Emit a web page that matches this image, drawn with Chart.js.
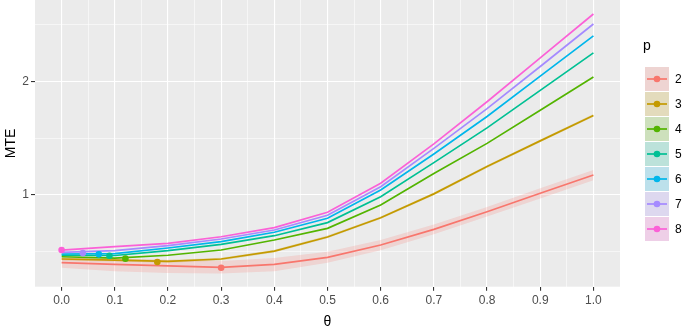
<!DOCTYPE html>
<html>
<head>
<meta charset="utf-8">
<script src="https://cdn.jsdelivr.net/npm/chart.js@4"></script>
<style>
  html, body { margin: 0; padding: 0; background: #ffffff; }
  #wrap { width: 685px; height: 332px; }
</style>
</head>
<body>
<div id="wrap"><canvas id="chart" width="685" height="332"></canvas></div>
<script>
// data
const thetas = [0, 0.1, 0.2, 0.3, 0.4, 0.5, 0.6, 0.7, 0.8, 0.9, 1.0];
const pLevels = ["2", "3", "4", "5", "6", "7", "8"];

const mte2 = [0.405, 0.390, 0.376, 0.364, 0.390, 0.452, 0.560, 0.698, 0.853, 1.015, 1.176];
const mte3 = [0.437, 0.428, 0.417, 0.437, 0.507, 0.631, 0.800, 1.010, 1.250, 1.476, 1.700];
const mte4 = [0.457, 0.445, 0.470, 0.516, 0.604, 0.707, 0.912, 1.190, 1.454, 1.746, 2.038];
const mte5 = [0.472, 0.468, 0.510, 0.566, 0.642, 0.757, 0.985, 1.285, 1.590, 1.920, 2.250];
const mte6 = [0.481, 0.485, 0.534, 0.590, 0.672, 0.795, 1.044, 1.360, 1.690, 2.045, 2.400];
const mte7 = [0.496, 0.510, 0.554, 0.613, 0.692, 0.822, 1.073, 1.410, 1.760, 2.130, 2.504];
const mte8 = [0.516, 0.546, 0.575, 0.633, 0.713, 0.848, 1.103, 1.450, 1.820, 2.206, 2.592];

// confidence bands (only p = 2 and 3 are visibly wide)
const band2Lower = [0.360, 0.330, 0.315, 0.310, 0.330, 0.405, 0.515, 0.655, 0.810, 0.970, 1.130];
const band2Upper = [0.450, 0.440, 0.430, 0.420, 0.445, 0.500, 0.605, 0.740, 0.895, 1.060, 1.220];
const band3Lower = [0.425, 0.416, 0.405, 0.425, 0.495, 0.619, 0.788, 0.998, 1.238, 1.464, 1.688];
const band3Upper = [0.449, 0.440, 0.429, 0.449, 0.519, 0.643, 0.812, 1.022, 1.262, 1.488, 1.712];

// minimum MTE marker per p
const minTheta = [0.30, 0.18, 0.12, 0.09, 0.07, 0.04, 0.00];
const minMte = [0.360, 0.411, 0.440, 0.466, 0.478, 0.489, 0.516];

const xTickValues = [0, 0.1, 0.2, 0.3, 0.4, 0.5, 0.6, 0.7, 0.8, 0.9, 1.0];
const xTickLabels = ["0.0", "0.1", "0.2", "0.3", "0.4", "0.5", "0.6", "0.7", "0.8", "0.9", "1.0"];
const xMinorValues = [0.05, 0.15, 0.25, 0.35, 0.45, 0.55, 0.65, 0.75, 0.85, 0.95];
const yTickValues = [1, 2];
const yTickLabels = ["1", "2"];
const yMinorValues = [0.5, 1.5, 2.5];

const seriesValues = [mte2, mte3, mte4, mte5, mte6, mte7, mte8];
const bands = { "2": [band2Lower, band2Upper], "3": [band3Lower, band3Upper] };
const colors = ["#F8766D", "#C49A00", "#53B400", "#00C094", "#00B6EB", "#A58AFF", "#FB61D7"];

function alpha(hex, a) {
  const n = parseInt(hex.slice(1), 16);
  return `rgba(${(n >> 16) & 255}, ${(n >> 8) & 255}, ${n & 255}, ${a})`;
}
function pts(xs, ys) {
  return xs.map((x, i) => ({ x: x, y: ys[i] }));
}
function findIndex(arr, v) {
  return arr.findIndex((a) => Math.abs(a - v) < 1e-6);
}

const datasets = [];
pLevels.forEach((p, i) => {
  if (bands[p]) {
    datasets.push({
      label: "lo" + p, data: pts(thetas, bands[p][0]),
      borderWidth: 0, pointRadius: 0, fill: false, order: 10,
    });
    datasets.push({
      label: "hi" + p, data: pts(thetas, bands[p][1]),
      borderWidth: 0, pointRadius: 0, fill: "-1",
      backgroundColor: alpha(colors[i], 0.2), order: 10,
    });
  }
});
pLevels.forEach((p, i) => {
  datasets.push({
    label: p, data: pts(thetas, seriesValues[i]),
    borderColor: colors[i], borderWidth: 1.7, pointRadius: 0,
    fill: false, tension: 0, order: 5 - i * 0.1,
  });
});
pLevels.forEach((p, i) => {
  datasets.push({
    label: "min" + p, data: [{ x: minTheta[i], y: minMte[i] }],
    showLine: false, pointRadius: 3.3, pointBorderWidth: 0,
    pointBackgroundColor: colors[i], order: 1,
  });
});

const panelBg = {
  id: "panelBg",
  beforeDraw(chart) {
    const { ctx, chartArea: a } = chart;
    ctx.save();
    ctx.fillStyle = "#EBEBEB";
    ctx.fillRect(a.left, a.top, a.right - a.left, a.bottom - a.top);
    ctx.restore();
  },
};

const extras = {
  id: "extras",
  afterDraw(chart) {
    const { ctx, chartArea: a } = chart;
    ctx.save();
    ctx.fillStyle = "#000000";
    ctx.font = "14px 'Liberation Sans', Arial, sans-serif";
    ctx.textAlign = "center";
    ctx.textBaseline = "middle";
    ctx.fillText("\u03B8", (a.left + a.right) / 2, 322);
    ctx.save();
    ctx.translate(11, (a.top + a.bottom) / 2);
    ctx.rotate(-Math.PI / 2);
    ctx.fillText("MTE", 0, 0);
    ctx.restore();

    // legend
    ctx.textAlign = "left";
    ctx.fillText("p", 643, 46);
    ctx.font = "12px 'Liberation Sans', Arial, sans-serif";
    pLevels.forEach((p, i) => {
      const y0 = 67 + i * 25;
      ctx.fillStyle = "#EBEBEB";
      ctx.fillRect(645, y0, 24, 24);
      ctx.fillStyle = alpha(colors[i], 0.2);
      ctx.fillRect(645, y0, 24, 24);
      ctx.strokeStyle = colors[i];
      ctx.lineWidth = 1.7;
      ctx.beginPath();
      ctx.moveTo(647, y0 + 12);
      ctx.lineTo(667, y0 + 12);
      ctx.stroke();
      ctx.fillStyle = colors[i];
      ctx.beginPath();
      ctx.arc(657, y0 + 12, 3.3, 0, Math.PI * 2);
      ctx.fill();
      ctx.fillStyle = "#000000";
      ctx.fillText(p, 675, y0 + 12.5);
    });
    ctx.restore();
  },
};

const tickFont = { family: "'Liberation Sans', Arial, sans-serif", size: 12 };

new Chart(document.getElementById("chart").getContext("2d"), {
  type: "line",
  data: { datasets: datasets },
  options: {
    responsive: false,
    animation: false,
    devicePixelRatio: 1,
    layout: { autoPadding: false, padding: { left: 0, right: 65, top: 0, bottom: 0 } },
    plugins: {
      legend: { display: false },
      tooltip: { enabled: false },
    },
    scales: {
      x: {
        type: "linear",
        min: -0.05,
        max: 1.05,
        afterBuildTicks(scale) {
          scale.ticks = xTickValues.concat(xMinorValues).map((v) => ({ value: v }));
        },
        afterFit(scale) {
          scale.height = 45.3;
          scale.paddingLeft = 0;
          scale.paddingRight = 0;
        },
        border: { display: false },
        grid: {
          color: "#FFFFFF",
          lineWidth: (c) => (findIndex(xTickValues, c.tick.value) >= 0 ? 1.1 : 0.55),
          tickColor: (c) => (findIndex(xTickValues, c.tick.value) >= 0 ? "#333333" : "rgba(0,0,0,0)"),
          tickLength: 4,
          tickWidth: 1.1,
        },
        ticks: {
          autoSkip: false,
          maxRotation: 0,
          padding: 3,
          color: "#4D4D4D",
          font: tickFont,
          callback: (v) => {
            const k = findIndex(xTickValues, v);
            return k >= 0 ? xTickLabels[k] : "";
          },
        },
      },
      y: {
        type: "linear",
        min: 0.1935,
        max: 2.715,
        afterBuildTicks(scale) {
          scale.ticks = yTickValues.concat(yMinorValues).map((v) => ({ value: v }));
        },
        afterFit(scale) {
          scale.width = 35;
          scale.paddingTop = 0;
          scale.paddingBottom = 0;
        },
        border: { display: false },
        grid: {
          color: "#FFFFFF",
          lineWidth: (c) => (findIndex(yTickValues, c.tick.value) >= 0 ? 1.1 : 0.55),
          tickColor: (c) => (findIndex(yTickValues, c.tick.value) >= 0 ? "#333333" : "rgba(0,0,0,0)"),
          tickLength: 4,
          tickWidth: 1.1,
        },
        ticks: {
          autoSkip: false,
          padding: 2,
          color: "#4D4D4D",
          font: tickFont,
          callback: (v) => {
            const k = findIndex(yTickValues, v);
            return k >= 0 ? yTickLabels[k] : "";
          },
        },
      },
    },
  },
  plugins: [panelBg, extras],
});
</script>
</body>
</html>
